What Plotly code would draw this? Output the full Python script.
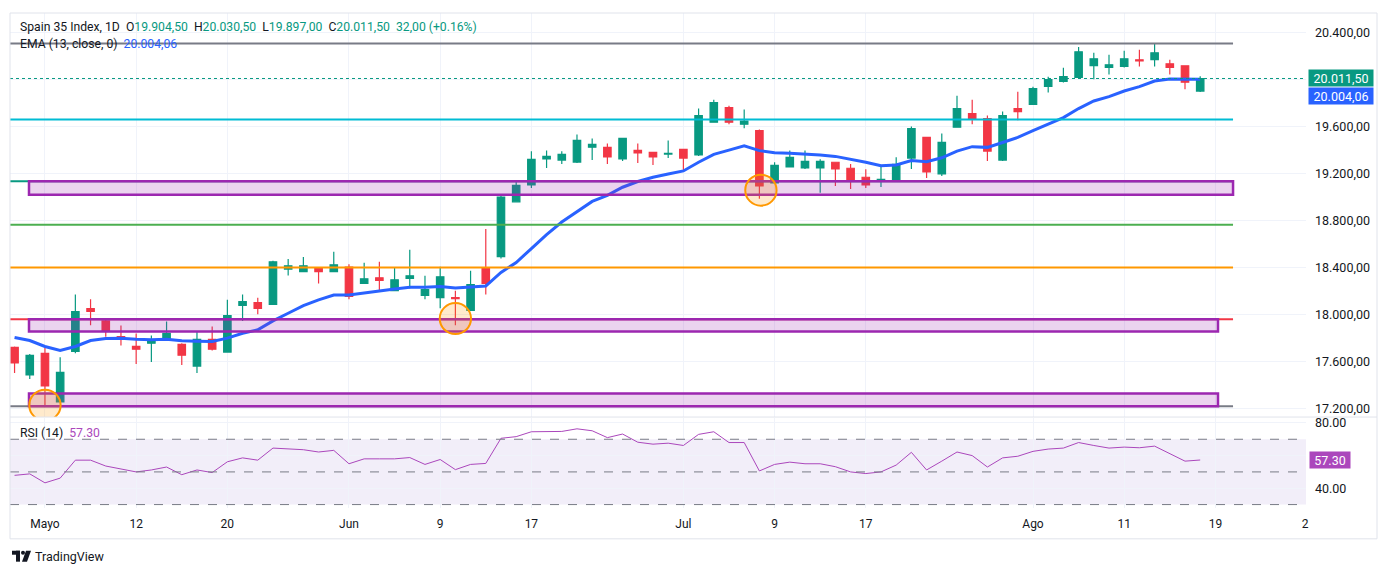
import numpy as np
import plotly.graph_objects as go

# daily candles, first visible bar is two sessions before the "Mayo" tick
opens = [17718, 17483, 17667, 17253, 17684, 18049, 17944, 17811, 17726, 17754,
         17792, 17743, 17559, 17786, 17678, 18077, 18100, 18085, 18386, 18365,
         18397, 18365, 18403, 18264, 18312, 18202, 18306, 18162, 18142, 18142,
         18034, 18397, 18493, 18960, 19104, 19325, 19316, 19299, 19426, 19424,
         19325, 19398, 19381, 19367, 19407, 19359, 19639, 19763, 19622, 19568,
         19121, 19257, 19248, 19248, 19297, 19246, 19169, 19135, 19138, 19333,
         19509, 19197, 19596, 19712, 19670, 19316, 19755, 19791, 19944, 19987,
         20021, 20122, 20105, 20114, 20171, 20173, 20137, 20120, 19904.5]
highs = [17726, 17661, 17712, 17633, 18170, 18128, 17964, 17905, 17837, 17820,
         17938, 17754, 17854, 17896, 18125, 18170, 18142, 18456, 18473, 18490,
         18400, 18533, 18428, 18439, 18448, 18397, 18550, 18329, 18405, 18202,
         18371, 18728, 19016, 19135, 19390, 19398, 19390, 19534, 19500, 19458,
         19500, 19458, 19381, 19483, 19407, 19755, 19831, 19780, 19746, 19577,
         19297, 19398, 19398, 19322, 19297, 19282, 19237, 19257, 19339, 19602,
         19509, 19543, 19865, 19831, 19696, 19729, 19899, 19942, 20027, 20103,
         20281, 20230, 20213, 20247, 20256, 20307, 20171, 20120, 20030.5]
lows = [17500, 17449, 17217, 17250, 17669, 17907, 17809, 17735, 17576, 17593,
        17790, 17568, 17500, 17692, 17675, 17944, 18000, 18083, 18331, 18362,
        18264, 18362, 18128, 18262, 18199, 18200, 18221, 18128, 18051, 17907,
        18032, 18170, 18476, 18958, 19078, 19248, 19282, 19291, 19316, 19282,
        19308, 19291, 19274, 19333, 19223, 19350, 19637, 19622, 19588, 18985,
        19118, 19255, 19240, 19036, 19095, 19070, 19078, 19087, 19135, 19240,
        19163, 19180, 19594, 19622, 19308, 19308, 19656, 19790, 19891, 19978,
        20020, 20004, 20046, 20105, 20114, 20114, 20046, 19919, 19897]
closes = [17585, 17650, 17389, 17506, 18023, 18026, 17860, 17794, 17703, 17777,
          17837, 17652, 17786, 17703, 17989, 18108, 18051, 18448, 18414, 18414,
          18365, 18422, 18153, 18303, 18289, 18295, 18329, 18210, 18320, 18134,
          18253, 18264, 18999, 19101, 19322, 19347, 19364, 19483, 19449, 19342,
          19500, 19376, 19342, 19373, 19333, 19696, 19806, 19639, 19647, 19095,
          19271, 19339, 19305, 19305, 19240, 19138, 19104, 19152, 19280, 19585,
          19214, 19466, 19755, 19662, 19392, 19696, 19729, 19925, 20001, 20027,
          20239, 20179, 20128, 20179, 20162, 20230, 20105, 19979.5, 20011.5]
ema13 = [17803, 17777, 17726, 17692, 17726, 17777, 17794, 17797, 17788, 17783,
         17788, 17775, 17771, 17769, 17797, 17839, 17868, 17944, 18009, 18074,
         18123, 18165, 18165, 18185, 18199, 18216, 18230, 18230, 18238, 18225,
         18230, 18241, 18357, 18442, 18561, 18679, 18787, 18878, 18963, 19014,
         19084, 19133, 19169, 19197, 19223, 19297, 19364, 19401, 19438, 19396,
         19379, 19373, 19367, 19359, 19347, 19325, 19297, 19268, 19274, 19311,
         19302, 19335, 19392, 19430, 19424, 19466, 19509, 19566, 19622, 19678,
         19755, 19820, 19857, 19905, 19942, 19990, 20008, 20003, 20004.06]
rsi14 = [47.9, 48.8, 43.3, 46.2, 57.2, 57.2, 53.6, 52.0, 50.0, 51.2,
         53.0, 48.3, 51.2, 49.6, 56.2, 58.6, 57.2, 64.6, 64.0, 63.6,
         62.2, 63.2, 55.0, 58.0, 58.0, 58.0, 58.8, 54.6, 57.6, 51.4,
         54.6, 55.2, 70.6, 71.6, 74.6, 74.8, 74.8, 76.4, 75.2, 71.0,
         73.2, 68.2, 67.0, 67.6, 66.2, 73.0, 74.6, 68.0, 68.0, 50.6,
         54.6, 56.0, 55.0, 55.0, 53.2, 50.0, 49.0, 50.0, 54.2, 62.0,
         51.2, 56.6, 62.2, 60.0, 53.0, 58.6, 59.6, 62.6, 64.0, 64.6,
         68.0, 66.2, 64.6, 65.2, 64.8, 65.8, 61.2, 56.6, 57.30]

tick_pos = [0, 6, 12, 20, 26, 32, 42, 48, 54, 65, 71, 77, 82.9]
tick_text = ["Mayo", "12", "20", "Jun", "9", "17", "Jul", "9", "17", "Ago", "11", "19", "2"]
price_ticks = [17200, 17600, 18000, 18400, 18800, 19200, 19600, 20000, 20400]
rsi_ticks = [40, 60, 80]

# drawn levels
resist_top = 20310
level_cyan = 19661
level_green = 18764
level_orange = 18400
zones = [(19019, 19135, 78.16, "#089981"), (17854, 17958, 77.17, "#f23645"),
         (17217, 17325, 77.17, "#787b86")]
circles = [(0, 17225), (27.0, 17964), (47.1, 19059)]

GREEN = "#089981"
RED = "#f23645"
BLUE = "#2962ff"
PURPLE = "#ab47bc"
TXT = "#131722"
GRID = "#f0f3fa"
FONT = "Roboto"

days = np.arange(len(closes)) - 2

# page pixel layout (page body has an 8px margin)
OFF = 8
W, H = 1388 - 2 * OFF, 575 - 2 * OFF
L, R, T, B = 10, 1306, 10, 508


def px(x):
    return (x - L) / (R - L)


def py(y):
    return (B - y) / (B - T)


def fmt(v):
    return f"{v:,.2f}".replace(",", "X").replace(".", ",").replace("X", ".")


fig = go.Figure()
fig.add_trace(go.Candlestick(
    x=days, open=opens, high=highs, low=lows, close=closes,
    increasing=dict(line=dict(color=GREEN, width=1.2), fillcolor=GREEN),
    decreasing=dict(line=dict(color=RED, width=1.2), fillcolor=RED),
    whiskerwidth=0, yaxis="y",
))
fig.add_trace(go.Scatter(x=days, y=ema13, mode="lines", yaxis="y",
                         line=dict(color=BLUE, width=3)))
fig.add_trace(go.Scatter(x=days, y=rsi14, mode="lines", yaxis="y2",
                         line=dict(color=PURPLE, width=1)))

shapes = []
# RSI band and levels
shapes.append(dict(type="rect", xref="paper", yref="y2", x0=0, x1=1, y0=30, y1=70,
                   fillcolor="rgba(126,87,194,0.1)", line=dict(width=0), layer="below"))
for lvl in (70, 50, 30):
    shapes.append(dict(type="line", xref="paper", yref="y2", x0=0, x1=1, y0=lvl, y1=lvl,
                       line=dict(color="#787b86", width=1, dash="dash")))

# horizontal levels
for lvl, col in [(resist_top, "#787b86"), (level_cyan, "#00bcd4"),
                 (level_green, "#4caf50"), (level_orange, "#ff9800")]:
    shapes.append(dict(type="line", xref="x", yref="y", x0=-2.3, x1=78.16, y0=lvl, y1=lvl,
                       line=dict(color=col, width=2), layer="above"))
for lo, hi, right, col in zones:
    edge = lo if col == "#787b86" else hi
    shapes.append(dict(type="line", xref="x", yref="y", x0=-2.3, x1=78.16, y0=edge, y1=edge,
                       line=dict(color=col, width=2), layer="above"))
for lo, hi, right, col in zones:
    shapes.append(dict(type="rect", xref="x", yref="y", x0=-1.05, x1=right, y0=lo, y1=hi,
                       fillcolor="rgba(156,39,176,0.2)", line=dict(color="#9c27b0", width=2.5),
                       layer="above"))
for cx, cy in circles:
    shapes.append(dict(type="circle", xref="x", yref="y", x0=cx - 1.03, x1=cx + 1.03,
                       y0=cy - 132, y1=cy + 132, fillcolor="rgba(255,152,0,0.2)",
                       line=dict(color="#ff9800", width=2), layer="above"))

# last price line
shapes.append(dict(type="line", xref="paper", yref="y", x0=0, x1=1, y0=closes[-1], y1=closes[-1],
                   line=dict(color=GREEN, width=1, dash="dot")))

# frame and pane separator
shapes.append(dict(type="rect", xref="paper", yref="paper", x0=0, x1=px(1377), y0=py(539), y1=1,
                   line=dict(color="#e0e3eb", width=1)))
shapes.append(dict(type="line", xref="paper", yref="paper", x0=0, x1=px(1377), y0=py(416.5), y1=py(416.5),
                   line=dict(color="#e0e3eb", width=1)))

# TradingView logo
shapes.append(dict(type="rect", xref="paper", yref="paper", x0=px(12), x1=px(20), y0=py(555), y1=py(551),
                   fillcolor=TXT, line=dict(width=0)))
shapes.append(dict(type="rect", xref="paper", yref="paper", x0=px(16), x1=px(20), y0=py(562), y1=py(551),
                   fillcolor=TXT, line=dict(width=0)))
shapes.append(dict(type="circle", xref="paper", yref="paper", x0=px(21), x1=px(25), y0=py(555), y1=py(551),
                   fillcolor=TXT, line=dict(width=0)))
shapes.append(dict(type="path", xref="paper", yref="paper",
                   path=f"M {px(26)},{py(551)} L {px(31)},{py(551)} L {px(27)},{py(562)} L {px(22)},{py(562)} Z",
                   fillcolor=TXT, line=dict(width=0)))

chg = closes[-1] - closes[-2]
pct = chg / closes[-2] * 100
nb = "\u00a0\u00a0"


def val(s, col=GREEN):
    return f"<span style='color:{col}'>{s}</span>"


head = ("Spain 35 Index, 1D" + nb + "O" + val(fmt(opens[-1])) + nb + "H" + val(fmt(highs[-1])) + nb
        + "L" + val(fmt(lows[-1])) + nb + "C" + val(fmt(closes[-1])) + nb
        + val(f"{fmt(chg)} (+{pct:.2f}%)"))

annotations = [
    dict(text=head, xref="paper", yref="paper", x=px(18), y=py(24), xanchor="left", yanchor="middle",
         showarrow=False, font=dict(family=FONT, size=12.2, color=TXT)),
    dict(text="EMA (13, close, 0)" + nb + val(fmt(ema13[-1]), BLUE), xref="paper", yref="paper",
         x=px(18), y=py(41), xanchor="left", yanchor="middle", showarrow=False,
         font=dict(family=FONT, size=12.2, color=TXT)),
    dict(text="RSI (14)" + nb + val(f"{rsi14[-1]:.2f}", PURPLE), xref="paper", yref="paper",
         x=px(18), y=py(433), xanchor="left", yanchor="middle", showarrow=False,
         font=dict(family=FONT, size=12.2, color=TXT)),
    dict(text=fmt(closes[-1]), xref="paper", yref="y", x=px(1308), y=closes[-1], xanchor="left",
         yanchor="middle", showarrow=False, bgcolor=GREEN, width=62, height=14, borderpad=1,
         font=dict(family=FONT, size=12.5, color="white")),
    dict(text=fmt(ema13[-1]), xref="paper", yref="y", x=px(1308), y=ema13[-1], yshift=-17,
         xanchor="left", yanchor="middle", showarrow=False, bgcolor=BLUE, width=62, height=14,
         borderpad=1, font=dict(family=FONT, size=12.5, color="white")),
    dict(text=f"{rsi14[-1]:.2f}", xref="paper", yref="y2", x=px(1309), y=rsi14[-1], xanchor="left",
         yanchor="middle", showarrow=False, bgcolor=PURPLE, width=38, height=14, borderpad=1,
         font=dict(family=FONT, size=12.5, color="white")),
    dict(text="TradingView", xref="paper", yref="paper", x=px(33), y=py(557), xanchor="left",
         yanchor="middle", showarrow=False, font=dict(family=FONT, size=12.5, color=TXT)),
]

# labels hidden behind the last-value tags
price_text = ["" if v == 20000 else fmt(v) for v in price_ticks]
rsi_text = ["" if v == 60 else f"{v:.2f}" for v in rsi_ticks]

fig.update_layout(
    width=W, height=H,
    margin=dict(l=L - OFF, r=W - (R - OFF), t=T - OFF, b=H - (B - OFF)),
    paper_bgcolor="white", plot_bgcolor="white",
    showlegend=False, hovermode=False,
    font=dict(family=FONT, size=12, color=TXT),
    xaxis=dict(domain=[0, 1], anchor="y2", range=[-2.3, 82.96], tickvals=tick_pos, ticktext=tick_text,
               showgrid=True, gridcolor=GRID, zeroline=False, showline=False, ticks="",
               rangeslider=dict(visible=False), tickfont=dict(family=FONT, size=12, color=TXT),
               ticklabelstandoff=7),
    yaxis=dict(domain=[py(416.5), 1], range=[17124, 20570], side="right", anchor="x",
               tickvals=price_ticks, ticktext=price_text, showgrid=True, gridcolor=GRID,
               zeroline=False, ticks="", ticklabelstandoff=8,
               tickfont=dict(family=FONT, size=12.5, color=TXT)),
    yaxis2=dict(domain=[0, py(417.5)], range=[27.9, 83.0], side="right", anchor="x",
                tickvals=rsi_ticks, ticktext=rsi_text, showgrid=True, gridcolor=GRID,
                zeroline=False, ticks="", ticklabelstandoff=8,
                tickfont=dict(family=FONT, size=12.5, color=TXT)),
    shapes=shapes,
    annotations=annotations,
)

fig.write_html("out.html")
